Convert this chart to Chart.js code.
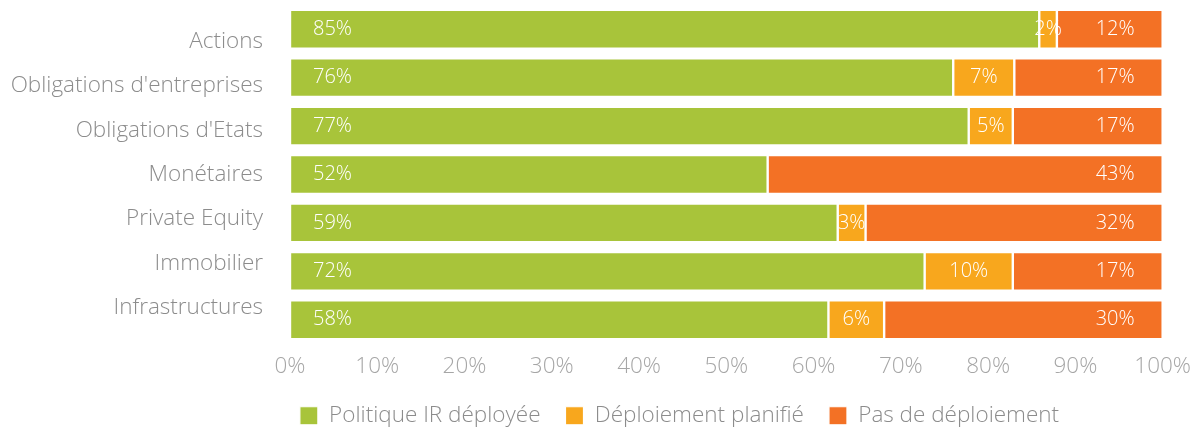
<!DOCTYPE html>
<html>
<head>
<meta charset="utf-8">
<script src="https://cdn.jsdelivr.net/npm/chart.js@4.4.1/dist/chart.umd.min.js"></script>
<style>
  html, body { margin: 0; padding: 0; background: #fff; }
  #wrap { width: 1191px; height: 428px; position: relative; }
</style>
</head>
<body>
<div id="wrap"><canvas id="c"></canvas></div>
<script>
// Asset classes and share of respondents per status (%)
const categories = ["Actions", "Obligations d'entreprises", "Obligations d'Etats", "Monétaires", "Private Equity", "Immobilier", "Infrastructures"];
const deployed = [85, 76, 77, 52, 59, 72, 58];
const planned  = [2, 7, 5, null, 3, 10, 6];
const noPolicy = [12, 17, 17, 43, 32, 17, 30];
const seriesNames = ["Politique IR déployée", "Déploiement planifié", "Pas de déploiement"];
const xTickLabels = ["0%", "10%", "20%", "30%", "40%", "50%", "60%", "70%", "80%", "90%", "100%"];

const FONT = "'Open Sans', Roboto, 'Liberation Sans', Arial, sans-serif";
const COLORS = ["#a8c43a", "#f8a71d", "#f37125"];

// each row is drawn as parts of its own total
const totals = categories.map((_, i) => (deployed[i] || 0) + (planned[i] || 0) + (noPolicy[i] || 0));
const share = arr => arr.map((v, i) => v == null ? null : v / totals[i] * 100);
const raw = [deployed, planned, noPolicy];

// value labels inside the segments: first series at the start, middle centred, last at the end
const segmentLabels = {
  id: 'segmentLabels',
  afterDatasetsDraw(chart) {
    const ctx = chart.ctx;
    ctx.save();
    ctx.fillStyle = '#ffffff';
    ctx.font = "300 20px " + FONT;
    ctx.textBaseline = 'middle';
    chart.data.datasets.forEach((ds, di) => {
      const meta = chart.getDatasetMeta(di);
      meta.data.forEach((bar, i) => {
        const v = raw[di][i];
        if (v == null || v === 0) return;
        const txt = v + '%';
        const left = Math.min(bar.x, bar.base), right = Math.max(bar.x, bar.base);
        if (di === 0) { ctx.textAlign = 'left'; ctx.fillText(txt, left + 23, bar.y); }
        else if (di === 1) { ctx.textAlign = 'center'; ctx.fillText(txt, (left + right) / 2, bar.y); }
        else { ctx.textAlign = 'right'; ctx.fillText(txt, right - 28, bar.y); }
      });
    });
    ctx.restore();
  }
};

// place the legend row under the plot
const legendShift = {
  id: 'legendShift',
  afterLayout(chart) {
    const lg = chart.legend;
    if (lg) { lg.left += 84; lg.right += 84; lg.top -= 1; lg.bottom -= 1; }
  }
};

new Chart(document.getElementById('c'), {
  type: 'bar',
  data: {
    labels: categories,
    datasets: [deployed, planned, noPolicy].map((arr, k) => ({
      label: seriesNames[k],
      data: share(arr),
      backgroundColor: COLORS[k],
      borderColor: '#ffffff',
      borderWidth: 1.2,
      borderSkipped: false,
      categoryPercentage: 0.8,
      barPercentage: 1.0,
      yAxisID: 'y'
    }))
  },
  options: {
    indexAxis: 'y',
    responsive: true,
    maintainAspectRatio: false,
    animation: false,
    layout: { padding: { top: 5, left: 0, right: 0, bottom: -10 } },
    scales: {
      x: {
        stacked: true,
        min: 0, max: 100,
        grid: { display: false, drawTicks: true, tickLength: 9.5 },
        border: { display: false },
        ticks: {
          stepSize: 10,
          padding: 0,
          color: '#a6a6a6',
          font: { family: FONT, size: 22.5, weight: 300 },
          callback: (v, i) => xTickLabels[i]
        }
      },
      y: {
        stacked: true,
        display: false
      },
      y2: {
        type: 'linear',
        position: 'left',
        reverse: true,
        offset: false,
        min: -0.82, max: 6.82,
        grid: { display: false, drawTicks: true, tickLength: 27, offset: false },
        border: { display: false },
        afterBuildTicks: s => { s.ticks = categories.map((_, i) => ({ value: i })); },
        afterFit: s => { s.width = 290; s.paddingTop = 0; s.paddingBottom = 0; },
        ticks: {
          autoSkip: false,
          padding: 0,
          color: '#8c8c8c',
          font: { family: FONT, size: 22.5, weight: 300 },
          callback: v => categories[v]
        }
      }
    },
    plugins: {
      tooltip: { enabled: false },
      legend: {
        position: 'bottom',
        labels: {
          boxWidth: 18,
          boxHeight: 18,
          padding: 25,
          color: '#8c8c8c',
          font: { family: FONT, size: 22.5, weight: 300 }
        }
      }
    }
  },
  plugins: [segmentLabels, legendShift]
});
</script>
</body>
</html>
